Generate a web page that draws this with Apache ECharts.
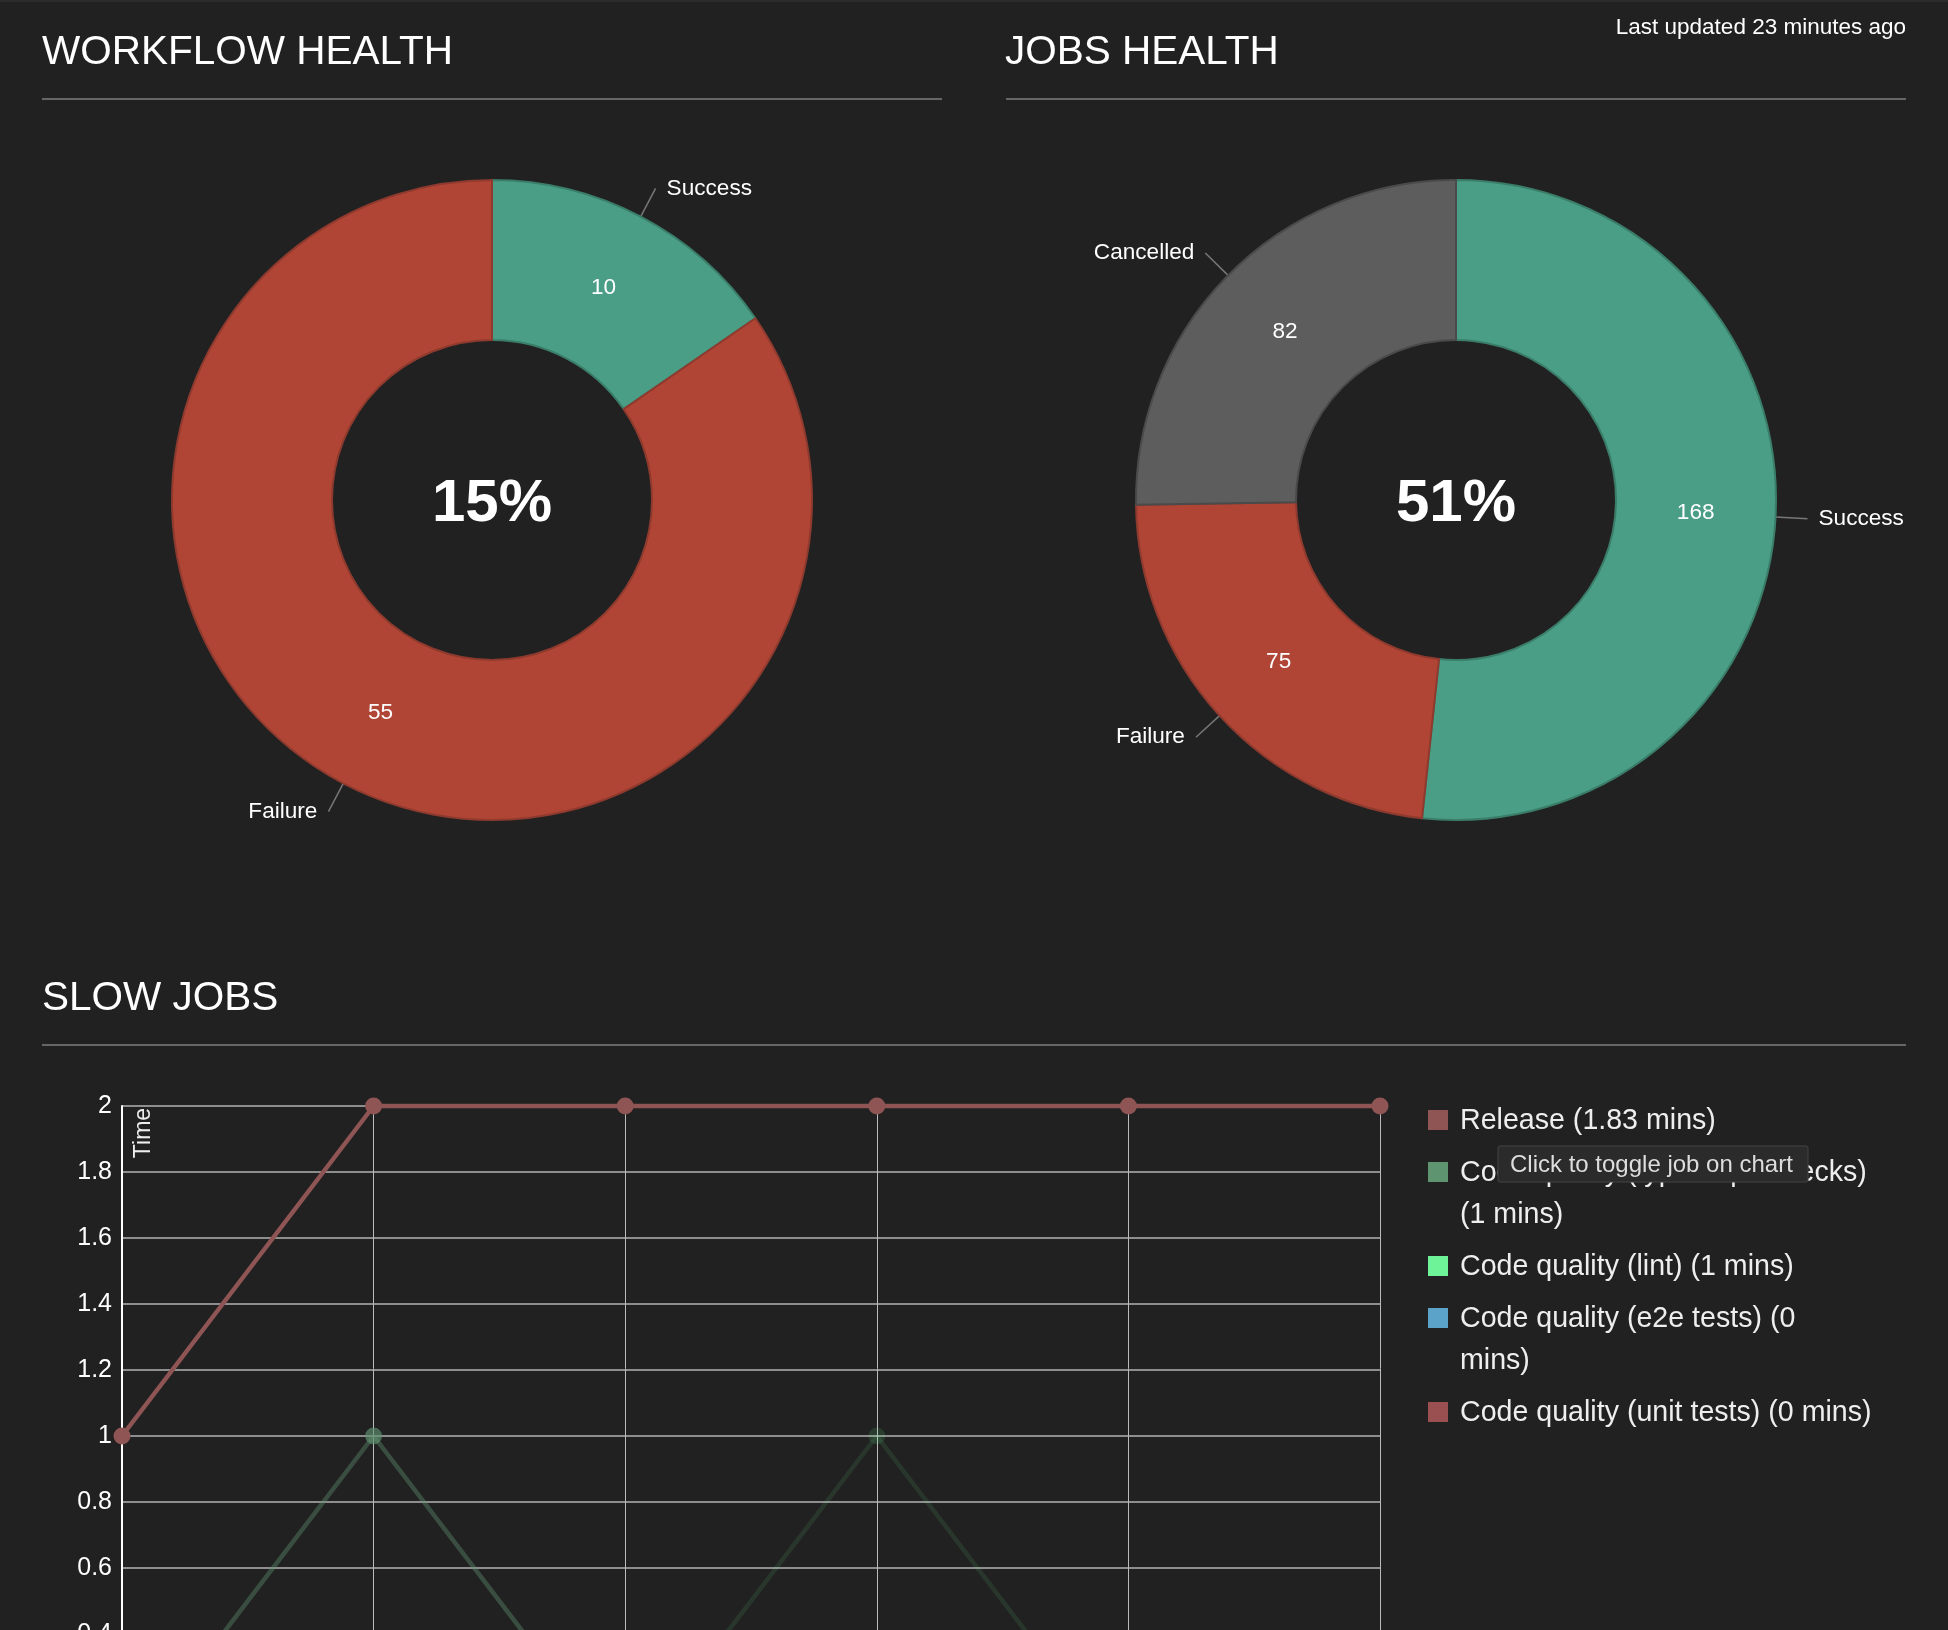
<!DOCTYPE html>
<html>
<head>
<meta charset="utf-8">
<title>Workflow health</title>
<script src="https://cdn.jsdelivr.net/npm/echarts@6/dist/echarts.min.js"></script>
<style>
	html,body{margin:0;padding:0;background:#212121;overflow:hidden;}
	#page{width:1948px;height:1630px;}
</style>
</head>
<body>
<div id="page"></div>
<script>
	// pie data
	var pieNames=['Success','Failure'];
	var workflowValues=[10,55];
	var jobNames=['Success','Failure','Cancelled'];
	var jobValues=[168,75,82];
	var workflowRate='15%';
	var jobRate='51%';

	// slow jobs, minutes per run
	var runs=['1','2','3','4','5','6'];
	var release=[1,2,2,2,2,2];
	var typeChecks=[0,1,0,0,0,0];
	var lint=[0,0,0,1,0,0];
	var e2eTests=[0,0,0,0,0,0];
	var unitTests=[0,0,0,0,0,0];
	var legendLabels=[
		'Release (1.83 mins)',
		'Code quality (type deps checks)\n(1 mins)',
		'Code quality (lint) (1 mins)',
		'Code quality (e2e tests) (0\nmins)',
		'Code quality (unit tests) (0 mins)'
	];

	var FONT='"Liberation Sans",Arial,sans-serif';
	var colors={success:'#4a9e85',failure:'#b14535',cancelled:'#5d5d5d'};
	var borders={success:'#3a7d69',failure:'#8e3a2e',cancelled:'#4a4a4a'};
	var jobColors=['#8f5454','#5f9471','#6ff398','#5ba3c9','#9a5050'];

	var pieData=function(names,values){
		var list=[];
		for (var i = 0; i < names.length; i++) {
			var key=names[i].toLowerCase();
			list.push({
				name:names[i],
				value:values[i],
				itemStyle:{color:colors[key],borderColor:borders[key],borderWidth:2}
			});
		}
		return list;
	};

	// visible ring carries the names, a clear ring on top carries the values
	var pieSeries=function(center,names,values){
		var ring={
			type:'pie',
			silent:true,
			animation:false,
			center:center,
			radius:[160,320],
			startAngle:90,
			avoidLabelOverlap:false,
			label:{position:'outside',formatter:'{b}',color:'#fff',fontSize:22.6,fontFamily:FONT,distanceToLabelLine:11,padding:[6,0,0,0]},
			labelLine:{show:true,length:32,length2:0,lineStyle:{color:'#777',width:1.5}},
			data:pieData(names,values)
		};
		var values_ring={
			type:'pie',
			silent:true,
			animation:false,
			center:center,
			radius:[154,320],
			startAngle:90,
			avoidLabelOverlap:false,
			itemStyle:{color:'transparent',borderWidth:0},
			label:{position:'inside',formatter:'{c}',color:'#fff',fontSize:22.6,fontFamily:FONT,padding:[4,0,0,0]},
			labelLine:{show:false},
			data:names.map(function(n,i){return {name:n,value:values[i]};})
		};
		return [ring,values_ring];
	};

	var lineSeries=function(name,data,color,lineOpacity,dotOpacity){
		return {
			type:'line',
			name:name,
			data:data,
			silent:true,
			animation:false,
			clip:false,
			symbol:'circle',
			symbolSize:17,
			lineStyle:{color:color,width:4.5,opacity:lineOpacity},
			itemStyle:{color:color,opacity:dotOpacity}
		};
	};

	var heading=function(text,x,y){
		return {type:'text',x:x,y:y,style:{text:text,fill:'#fff',fontSize:40.5,fontFamily:FONT,verticalAlign:'middle'}};
	};
	var rule=function(x1,x2,y){
		return {type:'line',shape:{x1:x1,y1:y,x2:x2,y2:y},style:{stroke:'#666',lineWidth:2}};
	};
	var rate=function(text,x){
		return {type:'text',x:x,y:504,style:{text:text,fill:'#fff',fontSize:60,fontWeight:'bold',fontFamily:FONT,align:'center',verticalAlign:'middle'}};
	};

	var shapes=[
		{type:'rect',shape:{x:0,y:0,width:1948,height:2},style:{fill:'#2b2b2b'}},
		heading('WORKFLOW HEALTH',42,52.5),
		heading('JOBS HEALTH',1005,52.5),
		heading('SLOW JOBS',42,999),
		rule(42,942,99),
		rule(1006,1906,99),
		rule(42,1906,1045),
		rate(workflowRate,492),
		rate(jobRate,1456),
		{type:'text',x:1906,y:28,style:{text:'Last updated 23 minutes ago',fill:'#fff',fontSize:22.5,fontFamily:FONT,align:'right',verticalAlign:'middle'}},
		{type:'text',x:144,y:1133,rotation:Math.PI/2,style:{text:'Time',fill:'#eee',fontSize:23,fontFamily:FONT,align:'center',verticalAlign:'middle'}}
	];

	// legend rows wrap like the page they came from, so stack them by line count
	var rowTop=1110;
	for (var i = 0; i < legendLabels.length; i++) {
		shapes.push({type:'rect',shape:{x:1428,y:rowTop,width:20,height:20},style:{fill:jobColors[i]}});
		shapes.push({type:'text',x:1460,y:rowTop-10,style:{text:legendLabels[i],fill:'#eee',fontSize:28.6,lineHeight:42,fontFamily:FONT,verticalAlign:'top'}});
		rowTop+=legendLabels[i].split('\n').length*42+10;
	}

	shapes.push({type:'rect',z:50,shape:{x:1498,y:1146,width:310,height:36,r:2},style:{fill:'#2b2b2b',stroke:'#444',lineWidth:1}});
	shapes.push({type:'text',z:51,x:1510,y:1165,style:{text:'Click to toggle job on chart',fill:'#ddd',fontSize:24,fontFamily:FONT,verticalAlign:'middle'}});

	var series=[].concat(
		pieSeries([492,500],pieNames,workflowValues),
		pieSeries([1456,500],jobNames,jobValues),
		[
			lineSeries('Code quality (unit tests)',unitTests,jobColors[4],1,1),
			lineSeries('Code quality (e2e tests)',e2eTests,jobColors[3],1,1),
			lineSeries('Code quality (lint)',lint,jobColors[2],0.1,0.12),
			lineSeries('Code quality (type deps checks)',typeChecks,jobColors[1],0.4,0.65),
			lineSeries('Release',release,jobColors[0],1,1)
		]
	);

	var myCharts=echarts.init(document.getElementById('page'));
	myCharts.setOption({
		backgroundColor:'#212121',
		animation:false,
		// the plot runs past the bottom of the page, as in the screenshot
		grid:{left:122,top:1106,width:1258,height:660,outerBoundsMode:'none'},
		xAxis:{
			type:'category',
			data:runs,
			boundaryGap:false,
			axisLine:{show:false},
			axisTick:{show:false},
			axisLabel:{show:false},
			splitLine:{show:true,lineStyle:{color:'#bbb',width:1}}
		},
		yAxis:{
			type:'value',
			min:0,
			max:2,
			interval:0.2,
			axisLine:{show:true,onZero:false,lineStyle:{color:'#fff',width:2}},
			axisTick:{show:false},
			axisLabel:{color:'#fff',fontSize:25,fontFamily:FONT,margin:10,padding:[2,0,0,0]},
			splitLine:{show:true,lineStyle:{color:'#8e8e8e',width:2}}
		},
		series:series,
		graphic:shapes
	});
</script>
</body>
</html>
